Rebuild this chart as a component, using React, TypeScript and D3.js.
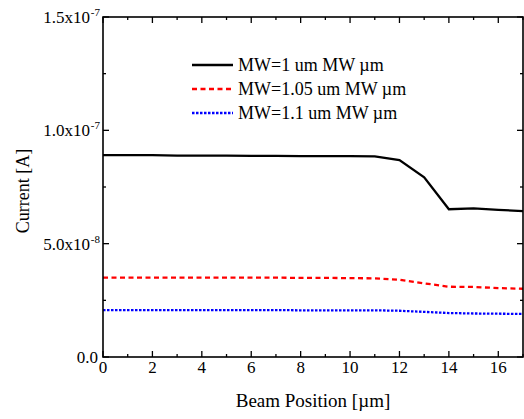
import React from "react";
import * as d3 from "d3";

const positions = [0, 1, 2, 3, 4, 5, 6, 7, 8, 9, 10, 11, 12, 13, 14, 15, 16, 17];
const mw1 = [8.91, 8.91, 8.91, 8.88, 8.88, 8.88, 8.87, 8.87, 8.86, 8.86, 8.86, 8.85, 8.69, 7.93, 6.52, 6.56, 6.49, 6.44].map(v => v * 1e-8);
const mw105 = [3.5, 3.5, 3.5, 3.5, 3.5, 3.5, 3.5, 3.5, 3.49, 3.49, 3.48, 3.47, 3.41, 3.25, 3.1, 3.09, 3.04, 3.01].map(v => v * 1e-8);
const mw11 = [2.07, 2.07, 2.07, 2.07, 2.07, 2.07, 2.07, 2.07, 2.06, 2.06, 2.06, 2.06, 2.04, 1.99, 1.94, 1.92, 1.91, 1.9].map(v => v * 1e-8);

const seriesNames = ["MW=1 um MW \u00b5m", "MW=1.05 um MW \u00b5m", "MW=1.1 um MW \u00b5m"];
const seriesColors = ["#000000", "#ff0000", "#0000ff"];
const seriesDash = ["", "5,3.5", "2.5,1.5"];

const xTicks = [0, 2, 4, 6, 8, 10, 12, 14, 16];
const xMinor = [1, 3, 5, 7, 9, 11, 13, 15, 17];
const yTicks = [0, 5e-8, 1e-7, 1.5e-7];
const yMantissa = ["0.0", "5.0", "1.0", "1.5"];
const yExp = ["", "-8", "-7", "-7"];
const yMinor = [2.5e-8, 7.5e-8, 1.25e-7];

const W = 524, H = 419;
const L = 103, R = 523, T = 17, B = 357;
const FONT = "Liberation Serif, Times New Roman, Times, serif";

export default function App() {
  const x = d3.scaleLinear().domain([0, 17]).range([L, R]);
  const y = d3.scaleLinear().domain([0, 1.5e-7]).range([B, T]);
  const line = d3.line<number>().x((_, i) => x(positions[i])).y(d => y(d));
  const data = [mw1, mw105, mw11];

  return (
    <svg width={W} height={H} style={{ position: "absolute", left: 0, top: 0, background: "#fff", fontFamily: FONT }}>
      <rect x={0} y={0} width={W} height={H} fill="#fff" />
      {data.map((d, i) => (
        <path key={i} d={line(d) || ""} fill="none" stroke={seriesColors[i]} strokeWidth={2.3}
          strokeDasharray={seriesDash[i] || undefined} />
      ))}
      <rect x={L} y={T} width={R - L} height={B - T} fill="none" stroke="#000" strokeWidth={1.6} />
      {xTicks.map(t => (
        <g key={"xt" + t}>
          <line x1={x(t)} x2={x(t)} y1={B} y2={B - 6} stroke="#000" strokeWidth={1.3} />
          <line x1={x(t)} x2={x(t)} y1={T} y2={T + 6} stroke="#000" strokeWidth={1.3} />
          <text x={x(t)} y={373} textAnchor="middle" fontSize={17}>{t}</text>
        </g>
      ))}
      {xMinor.map(t => (
        <g key={"xm" + t}>
          <line x1={x(t)} x2={x(t)} y1={B} y2={B - 3} stroke="#000" strokeWidth={1.3} />
          <line x1={x(t)} x2={x(t)} y1={T} y2={T + 3} stroke="#000" strokeWidth={1.3} />
        </g>
      ))}
      {yTicks.map((t, i) => (
        <g key={"yt" + i}>
          <line x1={L} x2={L + 6} y1={y(t)} y2={y(t)} stroke="#000" strokeWidth={1.3} />
          <line x1={R} x2={R - 6} y1={y(t)} y2={y(t)} stroke="#000" strokeWidth={1.3} />
          <text x={yExp[i] ? 100 - (yExp[i].length * 5) : 98} y={y(t) + 6} textAnchor="end" fontSize={17}>{yMantissa[i]}{yExp[i] ? "x10" : ""}</text>
          {yExp[i] && <text x={100} y={y(t) - 1} textAnchor="end" fontSize={11}>{yExp[i]}</text>}
        </g>
      ))}
      {yMinor.map((t, i) => (
        <g key={"ym" + i}>
          <line x1={L} x2={L + 3} y1={y(t)} y2={y(t)} stroke="#000" strokeWidth={1.3} />
          <line x1={R} x2={R - 3} y1={y(t)} y2={y(t)} stroke="#000" strokeWidth={1.3} />
        </g>
      ))}
      <text x={313} y={407} textAnchor="middle" fontSize={19}>Beam Position [{"\u00b5"}m]</text>
      <text transform={`translate(29,191) rotate(-90)`} textAnchor="middle" fontSize={18}>Current [A]</text>
      {seriesNames.map((n, i) => (
        <g key={"lg" + i}>
          <line x1={192} x2={233} y1={65 + i * 24} y2={65 + i * 24} stroke={seriesColors[i]} strokeWidth={2.3}
            strokeDasharray={seriesDash[i] || undefined} />
          <text x={238} y={65 + i * 24 + 6} fontSize={18}>{n}</text>
        </g>
      ))}
    </svg>
  );
}
